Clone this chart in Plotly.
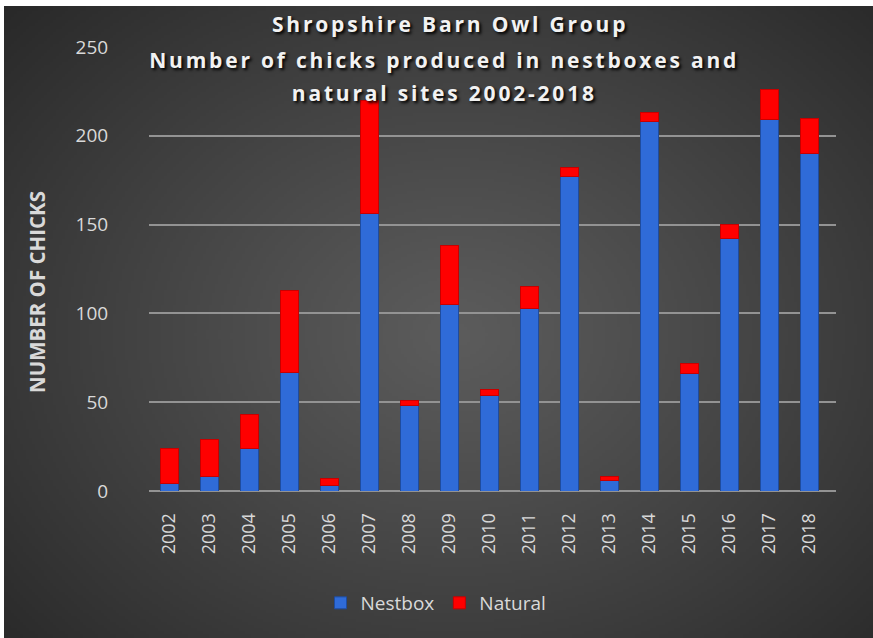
import base64
import struct
import zlib

import numpy as np
import plotly.graph_objects as go

# ---- data ----
years = ["2002", "2003", "2004", "2005", "2006", "2007", "2008", "2009", "2010",
         "2011", "2012", "2013", "2014", "2015", "2016", "2017", "2018"]
nestbox = [4, 8, 24, 67, 3, 156, 48, 105, 54, 103, 177, 6, 208, 66, 142, 209, 190]
natural = [20, 21, 19, 46, 4, 64, 3, 33, 3, 12, 5, 2, 5, 6, 8, 17, 20]
y_ticks = [0, 50, 100, 150, 200, 250]

W, H = 873, 638
L, R, T, B = 149, 37, 47, 147
PW, PH = W - L - R, H - T - B


def px_x(px):
    return (px - L) / PW


def px_y(py):
    return (H - B - py) / PH


# ---- radial gradient background as PNG (decoration) ----
def make_png(arr):
    h, w, _ = arr.shape
    raw = b"".join(b"\x00" + arr[i].tobytes() for i in range(h))

    def chunk(tag, data):
        c = struct.pack(">I", len(data)) + tag + data
        return c + struct.pack(">I", zlib.crc32(tag + data) & 0xFFFFFFFF)

    ihdr = struct.pack(">IIBBBBB", w, h, 8, 2, 0, 0, 0)
    return (b"\x89PNG\r\n\x1a\n" + chunk(b"IHDR", ihdr)
            + chunk(b"IDAT", zlib.compress(raw, 9)) + chunk(b"IEND", b""))


gw, gh = 290, 210
xx, yy = np.meshgrid(np.linspace(0, 1, gw), np.linspace(0, 1, gh))
rr = np.sqrt(((xx - 0.52) / 0.72) ** 2 + ((yy - 0.52) / 0.78) ** 2)
val = np.clip(92 - 52 * rr ** 1.1, 38, 92).astype(np.uint8)
img = np.stack([val, val, val], axis=-1)
bg_src = "data:image/png;base64," + base64.b64encode(make_png(img)).decode()

fig = go.Figure()
fig.add_trace(go.Bar(
    x=years, y=nestbox, name="Nestbox",
    marker=dict(color="#2F6BD8", line=dict(color="#1F4C9E", width=1)),
))
fig.add_trace(go.Bar(
    x=years, y=natural, name="Natural",
    marker=dict(color="#FF0000", line=dict(color="#C80000", width=1)),
))

shadow = "2px 2px 3px #000000"
title_font = dict(family="Open Sans", size=21, color="#F2F2F2", weight=700, shadow=shadow)

annotations = [
    dict(text="Shropshire Barn Owl Group", x=px_x(450), y=px_y(24),
         xref="paper", yref="paper", showarrow=False, font=title_font,
         xanchor="center", yanchor="middle"),
    dict(text="Number of chicks produced in nestboxes and", x=px_x(444), y=px_y(60),
         xref="paper", yref="paper", showarrow=False, font=title_font,
         xanchor="center", yanchor="middle"),
    dict(text="natural sites 2002-2018", x=px_x(444), y=px_y(93),
         xref="paper", yref="paper", showarrow=False, font=title_font,
         xanchor="center", yanchor="middle"),
    dict(text="NUMBER OF CHICKS", x=px_x(37), y=px_y(292), textangle=-90,
         xref="paper", yref="paper", showarrow=False,
         font=dict(family="Open Sans", size=20.5, color="#D9D9D9", weight=700),
         xanchor="center", yanchor="middle"),
]

fig.update_layout(
    width=W, height=H,
    margin=dict(l=L, r=R, t=T, b=B),
    paper_bgcolor="#FFFFFF",
    plot_bgcolor="rgba(0,0,0,0)",
    barmode="stack",
    bargap=0.55,
    annotations=annotations,
    images=[dict(source=bg_src, xref="paper", yref="paper",
                 x=px_x(4), y=px_y(6), sizex=(W - 4) / PW, sizey=(H - 6) / PH,
                 xanchor="left", yanchor="top", sizing="stretch", layer="below")],
    legend=dict(orientation="h", x=px_x(436), y=px_y(603), xanchor="center",
                yanchor="middle", font=dict(family="Open Sans", size=19, color="#D9D9D9"),
                bgcolor="rgba(0,0,0,0)", traceorder="normal", itemwidth=30),
    showlegend=True,
)
fig.update_yaxes(
    range=[0, 250], tickvals=y_ticks, showgrid=True, gridcolor="#939393", gridwidth=1.5,
    zeroline=True, zerolinecolor="#939393", zerolinewidth=1.5,
    tickfont=dict(family="Open Sans", size=19, color="#D9D9D9"),
    ticks="outside", ticklen=36, tickcolor="rgba(0,0,0,0)", showline=False,
)
fig.update_xaxes(
    range=[-0.5, 16.675],
    tickangle=-90, tickfont=dict(family="Open Sans", size=18, color="#D9D9D9"),
    ticks="outside", ticklen=14, tickcolor="rgba(0,0,0,0)", showline=False,
    showgrid=False,
)

post = """
document.body.style.margin='0';
var anns = document.querySelectorAll('.annotation-text');
for (var i = 0; i < anns.length && i < 3; i++) {
  anns[i].style.letterSpacing = '2.8px';
}
"""
fig.write_html("out.html", post_script=post, config={"displayModeBar": False})
